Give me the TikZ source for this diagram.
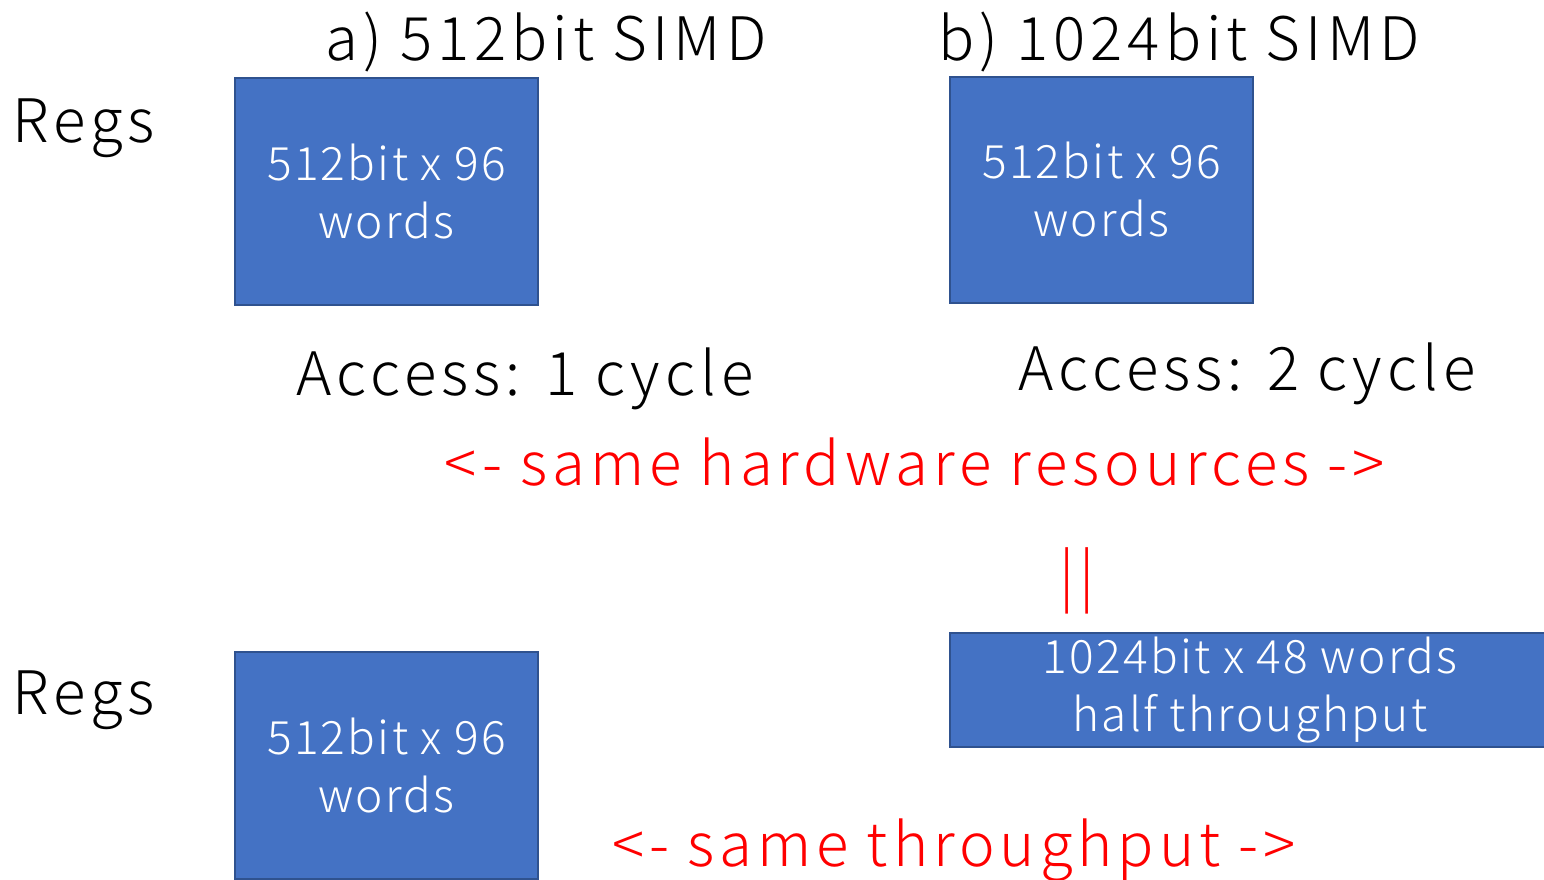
\documentclass[tikz,border=0pt]{standalone}
\usepackage{fontspec}
\setmainfont{Noto Sans CJK JP Light}[LetterSpace=8.3]
\newfontfamily\boxfont{Noto Sans CJK JP Light}[LetterSpace=5]
\definecolor{boxfill}{HTML}{4472C4}
\definecolor{boxline}{HTML}{2F528F}
\definecolor{note}{HTML}{FF0000}
\tikzset{
  x=1pt, y=-1pt,
  reg/.style={draw=boxline, line width=2pt, fill=boxfill, text=white, align=center,
    font=\boxfont\fontsize{46}{58}\selectfont, inner sep=0pt},
  heading/.style={font=\fontsize{60}{70}\selectfont, inner sep=0pt},
  label/.style={font=\fontsize{60}{70}\selectfont, inner sep=0pt},
  remark/.style={text=note, font=\fontsize{60}{70}\selectfont, inner sep=0pt}
}
\begin{document}
\begin{tikzpicture}
\clip (0,0) rectangle (1544,879);
\fill[white] (0,0) rectangle (1544,879);

% column headings
\node[heading] (ha) at (546,42) {a) 512bit SIMD};
\node[heading] (hb) at (1179,42) {b) 1024bit SIMD};

% row labels
\node[label] (r1) at (84,128) {Regs};
\node[label] (r2) at (84,700) {Regs};

% register files
\node[reg, minimum width=303pt, minimum height=227pt] (ra) at (386.5,191.5) {512bit x 96\\words};
\node[reg, minimum width=303pt, minimum height=226pt] (rb) at (1101.5,190) {512bit x 96\\words};
\node[reg, minimum width=303pt, minimum height=227pt] (rc) at (386.5,765.5) {512bit x 96\\words};
\node[reg, minimum width=600pt, minimum height=114pt] (rd) at (1250,690) {1024bit x 48 words\\half throughput};

% access latencies
\node[label] (la) at (525,379) {Access: 1 cycle};
\node[label] (lb) at (1247,374) {Access: 2 cycle};

% comparisons
\node[remark] (same) at (915,462) {<- same hardware resources ->};
\node[remark] (eq) at (1077,581) {||};
\node[remark] (tp) at (954,850) {<- same throughput ->};
\end{tikzpicture}
\end{document}
